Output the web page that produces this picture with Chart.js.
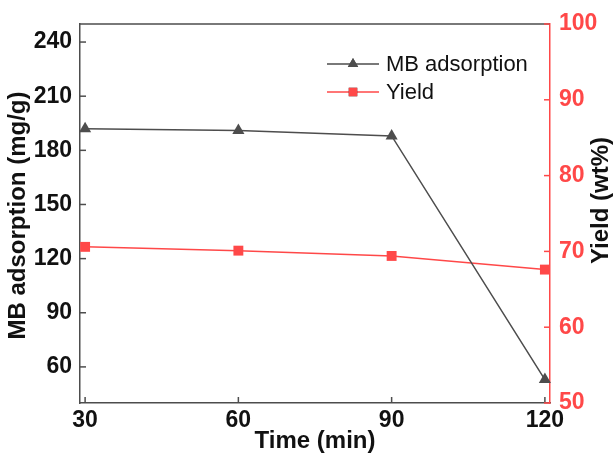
<!DOCTYPE html>
<html>
<head>
<meta charset="utf-8">
<script src="https://cdn.jsdelivr.net/npm/chart.js@4/dist/chart.umd.min.js"></script>
<style>
  html, body { margin: 0; padding: 0; background: #fff; }
  #wrap { width: 613px; height: 458px; }
</style>
</head>
<body>
<div id="wrap"><canvas id="c" width="613" height="458"></canvas></div>
<script>
const times = [30, 60, 90, 120];
const mbAdsorption = [192, 191, 188, 53];
const yieldWt = [70.6, 70.1, 69.4, 67.6];
const xTicks = [30, 60, 90, 120];
const leftTicks = [60, 90, 120, 150, 180, 210, 240];
const rightTicks = [50, 60, 70, 80, 90, 100];
const seriesNames = ['MB adsorption', 'Yield'];
const xTitle = 'Time (min)';
const leftTitle = 'MB adsorption (mg/g)';
const rightTitle = 'Yield (wt%)';

const GRAY = '#4d4d4d';
const RED = '#ff4848';
const FONT = '"Liberation Sans", Arial, sans-serif';

const decor = {
  id: 'decor',
  afterDatasetsDraw(chart) {
    const ctx = chart.ctx;
    const a = chart.chartArea;
    const sx = chart.scales.x, sl = chart.scales.y, sr = chart.scales.y2;
    ctx.save();
    // top frame
    ctx.strokeStyle = GRAY; ctx.lineWidth = 1.5;
    ctx.beginPath(); ctx.moveTo(a.left, a.top); ctx.lineTo(a.right, a.top); ctx.stroke();
    // inward ticks
    const L = 6;
    ctx.lineWidth = 1.5;
    ctx.strokeStyle = GRAY;
    xTicks.forEach(v => { const p = sx.getPixelForValue(v); ctx.beginPath(); ctx.moveTo(p, a.bottom); ctx.lineTo(p, a.bottom - L); ctx.stroke(); });
    leftTicks.forEach(v => { const p = sl.getPixelForValue(v); ctx.beginPath(); ctx.moveTo(a.left, p); ctx.lineTo(a.left + L, p); ctx.stroke(); });
    ctx.strokeStyle = RED;
    rightTicks.forEach(v => { const p = sr.getPixelForValue(v); ctx.beginPath(); ctx.moveTo(a.right, p); ctx.lineTo(a.right - L, p); ctx.stroke(); });
    // legend
    const items = [
      { name: seriesNames[0], color: GRAY, style: 'triangle', y: a.top + 40 },
      { name: seriesNames[1], color: RED, style: 'rect', y: a.top + 68 }
    ];
    items.forEach(it => {
      ctx.strokeStyle = it.color; ctx.lineWidth = 1.5;
      ctx.beginPath(); ctx.moveTo(327, it.y); ctx.lineTo(379, it.y); ctx.stroke();
      Chart.helpers.drawPoint(ctx, { pointStyle: it.style, radius: 6, borderWidth: 0 }, 353, it.y);
      ctx.fillStyle = it.color; ctx.fill();
      ctx.fillStyle = '#111';
      ctx.font = '22px ' + FONT;
      ctx.textBaseline = 'middle'; ctx.textAlign = 'left';
      ctx.fillText(it.name, 386, it.y + 1);
    });
    // titles
    ctx.fillStyle = '#111';
    ctx.font = 'bold 24px ' + FONT;
    ctx.textAlign = 'center'; ctx.textBaseline = 'middle';
    ctx.fillText(xTitle, (a.left + a.right) / 2 - 0, 441);
    ctx.save();
    ctx.translate(18, (a.top + a.bottom) / 2 + 2);
    ctx.rotate(-Math.PI / 2);
    ctx.fillText(leftTitle, 0, 0);
    ctx.restore();
    ctx.save();
    ctx.translate(601, (a.top + a.bottom) / 2 - 13);
    ctx.rotate(-Math.PI / 2);
    ctx.fillText(rightTitle, 0, 0);
    ctx.restore();
    ctx.restore();
  }
};

new Chart(document.getElementById('c'), {
  type: 'line',
  data: {
    datasets: [
      {
        label: seriesNames[0],
        data: times.map((t, i) => ({ x: t, y: mbAdsorption[i] })),
        borderColor: GRAY, backgroundColor: GRAY,
        borderWidth: 1.5, pointStyle: 'triangle', pointRadius: 7,
        pointBorderWidth: 0, yAxisID: 'y', tension: 0, clip: false
      },
      {
        label: seriesNames[1],
        data: times.map((t, i) => ({ x: t, y: yieldWt[i] })),
        borderColor: RED, backgroundColor: RED,
        borderWidth: 1.5, pointStyle: 'rect', pointRadius: 7,
        pointBorderWidth: 0, yAxisID: 'y2', tension: 0, clip: false
      }
    ]
  },
  options: {
    responsive: false,
    animation: false,
    devicePixelRatio: 1,
    layout: { padding: { top: 24, left: 0, right: 0, bottom: 0 } },
    plugins: { legend: { display: false }, tooltip: { enabled: false } },
    scales: {
      x: {
        type: 'linear', position: 'bottom', min: 29, max: 121,
        afterBuildTicks: s => { s.ticks = xTicks.map(v => ({ value: v })); },
        afterFit: s => { s.height = 55; },
        grid: { display: false, drawTicks: false },
        border: { display: true, color: GRAY, width: 1.5 },
        ticks: { color: '#111', font: { family: FONT, size: 23, weight: 'bold' }, padding: 4, maxRotation: 0, autoSkip: false }
      },
      y: {
        type: 'linear', position: 'left', min: 40, max: 250,
        afterBuildTicks: s => { s.ticks = leftTicks.map(v => ({ value: v })); },
        afterFit: s => { s.width = 80; },
        grid: { display: false, drawTicks: false },
        border: { display: true, color: GRAY, width: 1.5 },
        ticks: { color: '#111', font: { family: FONT, size: 23, weight: 'bold' }, padding: 8, autoSkip: false }
      },
      y2: {
        type: 'linear', position: 'right', min: 50, max: 100,
        afterBuildTicks: s => { s.ticks = rightTicks.map(v => ({ value: v })); },
        afterFit: s => { s.width = 63; },
        grid: { display: false, drawTicks: false },
        border: { display: true, color: RED, width: 1.5 },
        ticks: { color: RED, font: { family: FONT, size: 23, weight: 'bold' }, padding: 9, autoSkip: false }
      }
    }
  },
  plugins: [decor]
});
</script>
</body>
</html>
